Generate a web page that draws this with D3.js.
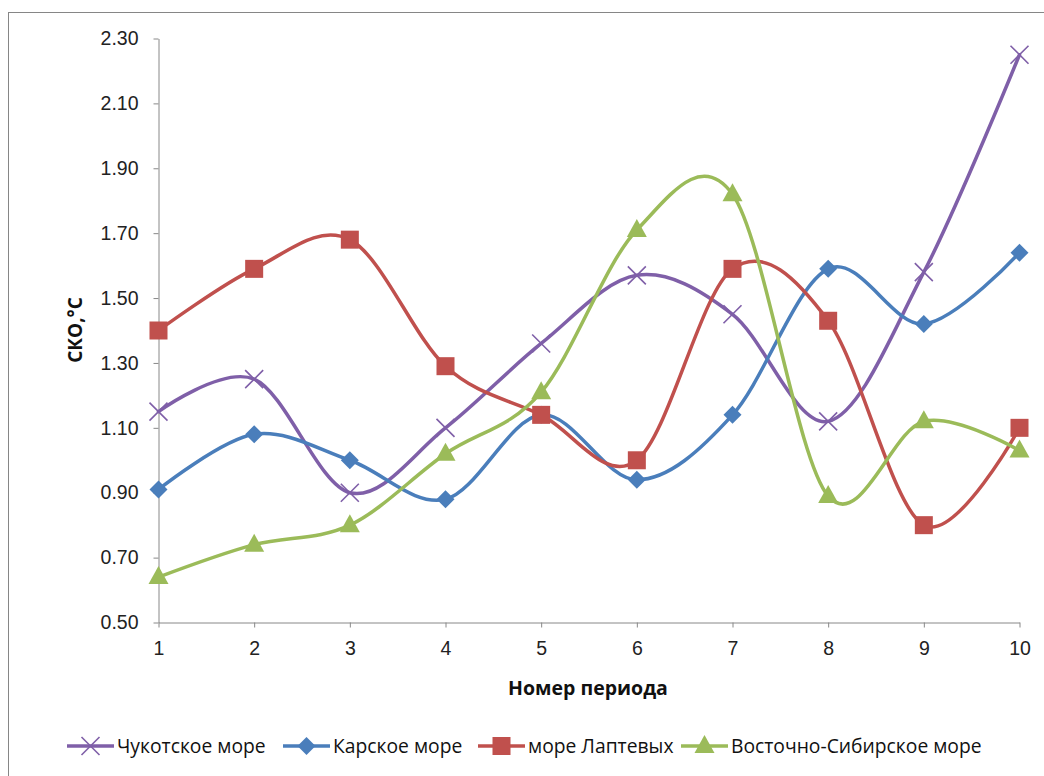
<!DOCTYPE html>
<html>
<head>
<meta charset="utf-8">
<script src="https://cdn.jsdelivr.net/npm/d3@7"></script>
<style>
  body { margin: 0; background: #fff; }
  svg { display: block; font-family: "Open Sans", "Noto Sans", sans-serif; }
</style>
</head>
<body>
<script>
// periods and series values (СКО, °C)
let periods = [1, 2, 3, 4, 5, 6, 7, 8, 9, 10];
let chukchi = [1.15, 1.25, 0.90, 1.10, 1.36, 1.57, 1.45, 1.12, 1.58, 2.25];
let kara = [0.91, 1.08, 1.00, 0.88, 1.14, 0.94, 1.14, 1.59, 1.42, 1.64];
let laptev = [1.40, 1.59, 1.68, 1.29, 1.14, 1.00, 1.59, 1.43, 0.80, 1.10];
let eastSib = [0.64, 0.74, 0.80, 1.02, 1.21, 1.71, 1.82, 0.89, 1.12, 1.03];
let yTicks = [0.5, 0.7, 0.9, 1.1, 1.3, 1.5, 1.7, 1.9, 2.1, 2.3];
let seriesNames = ["Чукотское море", "Карское море", "море Лаптевых", "Восточно-Сибирское море"];

let series = [
  { name: seriesNames[0], values: chukchi, color: "#7f5fa8", marker: "x" },
  { name: seriesNames[1], values: kara, color: "#4a7ebb", marker: "diamond" },
  { name: seriesNames[2], values: laptev, color: "#c0504d", marker: "square" },
  { name: seriesNames[3], values: eastSib, color: "#9bbb59", marker: "triangle" },
];

let width = 1044;
let height = 776;

let svg = d3.select("body").append("svg")
  .attr("width", width)
  .attr("height", height);

// chart frame
svg.append("rect")
  .attr("x", 8.5).attr("y", 12.5)
  .attr("width", width).attr("height", height)
  .attr("fill", "none")
  .attr("stroke", "#868686");

let x = d3.scaleLinear().domain([1, 10]).range([158.5, 1019.5]);
let y = d3.scaleLinear().domain([0.5, 2.3]).range([622.5, 38.5]);

// y axis
let yAxis = svg.append("g")
  .attr("transform", `translate(${x(1)},0)`)
  .call(d3.axisLeft(y).tickValues(yTicks).tickFormat(d3.format(".2f")).tickSize(5).tickSizeOuter(0).tickPadding(15));

// x axis
let xAxis = svg.append("g")
  .attr("transform", `translate(0,${y(0.5)})`)
  .call(d3.axisBottom(x).tickValues(periods).tickFormat(d3.format("d")).tickSize(5).tickSizeOuter(0).tickPadding(14));

[yAxis, xAxis].forEach((g) => {
  g.selectAll("path, line").attr("stroke", "#888");
  g.selectAll("text").attr("font-size", 19.5).attr("fill", "#222");
});

// axis titles
svg.append("text")
  .attr("transform", `translate(82,330) rotate(-90)`)
  .attr("text-anchor", "middle")
  .attr("font-size", 19)
  .attr("font-weight", "bold")
  .attr("fill", "#111")
  .text("СКО,°С");

svg.append("text")
  .attr("x", 588).attr("y", 695)
  .attr("text-anchor", "middle")
  .attr("font-size", 19.5)
  .attr("font-weight", "bold")
  .attr("fill", "#111")
  .text("Номер периода");

let line = d3.line()
  .x((d, i) => x(periods[i]))
  .y((d) => y(d))
  .curve(d3.curveCardinal.tension(0));

// draws one marker into group g at (cx, cy)
let drawMarker = function (g, type, color, cx, cy) {
  if (type === "x") {
    g.append("path")
      .attr("d", `M${cx - 9},${cy - 9}L${cx + 9},${cy + 9}M${cx - 9},${cy + 9}L${cx + 9},${cy - 9}`)
      .attr("stroke", color).attr("stroke-width", 1.6).attr("fill", "none");
  } else if (type === "diamond") {
    g.append("path")
      .attr("d", `M${cx},${cy - 9}L${cx + 9},${cy}L${cx},${cy + 9}L${cx - 9},${cy}Z`)
      .attr("fill", color);
  } else if (type === "square") {
    g.append("rect")
      .attr("x", cx - 9).attr("y", cy - 9)
      .attr("width", 18).attr("height", 18)
      .attr("fill", color);
  } else {
    g.append("path")
      .attr("d", `M${cx},${cy - 11}L${cx + 10},${cy + 7}L${cx - 10},${cy + 7}Z`)
      .attr("fill", color);
  }
};

let plot = svg.append("g");

series.forEach((s) => {
  plot.append("path")
    .attr("d", line(s.values))
    .attr("fill", "none")
    .attr("stroke", s.color)
    .attr("stroke-width", 3.5)
    .attr("stroke-linecap", "round");
});

series.forEach((s) => {
  let g = plot.append("g");
  s.values.forEach((v, i) => drawMarker(g, s.marker, s.color, x(periods[i]), y(v)));
});

// legend
let legendX = [67, 283, 478, 681];
let legend = svg.append("g");
series.forEach((s, i) => {
  let lx = legendX[i];
  let ly = 746;
  legend.append("line")
    .attr("x1", lx).attr("x2", lx + 47)
    .attr("y1", ly).attr("y2", ly)
    .attr("stroke", s.color).attr("stroke-width", 3.5);
  drawMarker(legend, s.marker, s.color, lx + 23.5, ly);
  legend.append("text")
    .attr("x", lx + 50).attr("y", ly + 7)
    .attr("font-size", 19.3)
    .attr("fill", "#111")
    .text(s.name);
});
</script>
</body>
</html>
